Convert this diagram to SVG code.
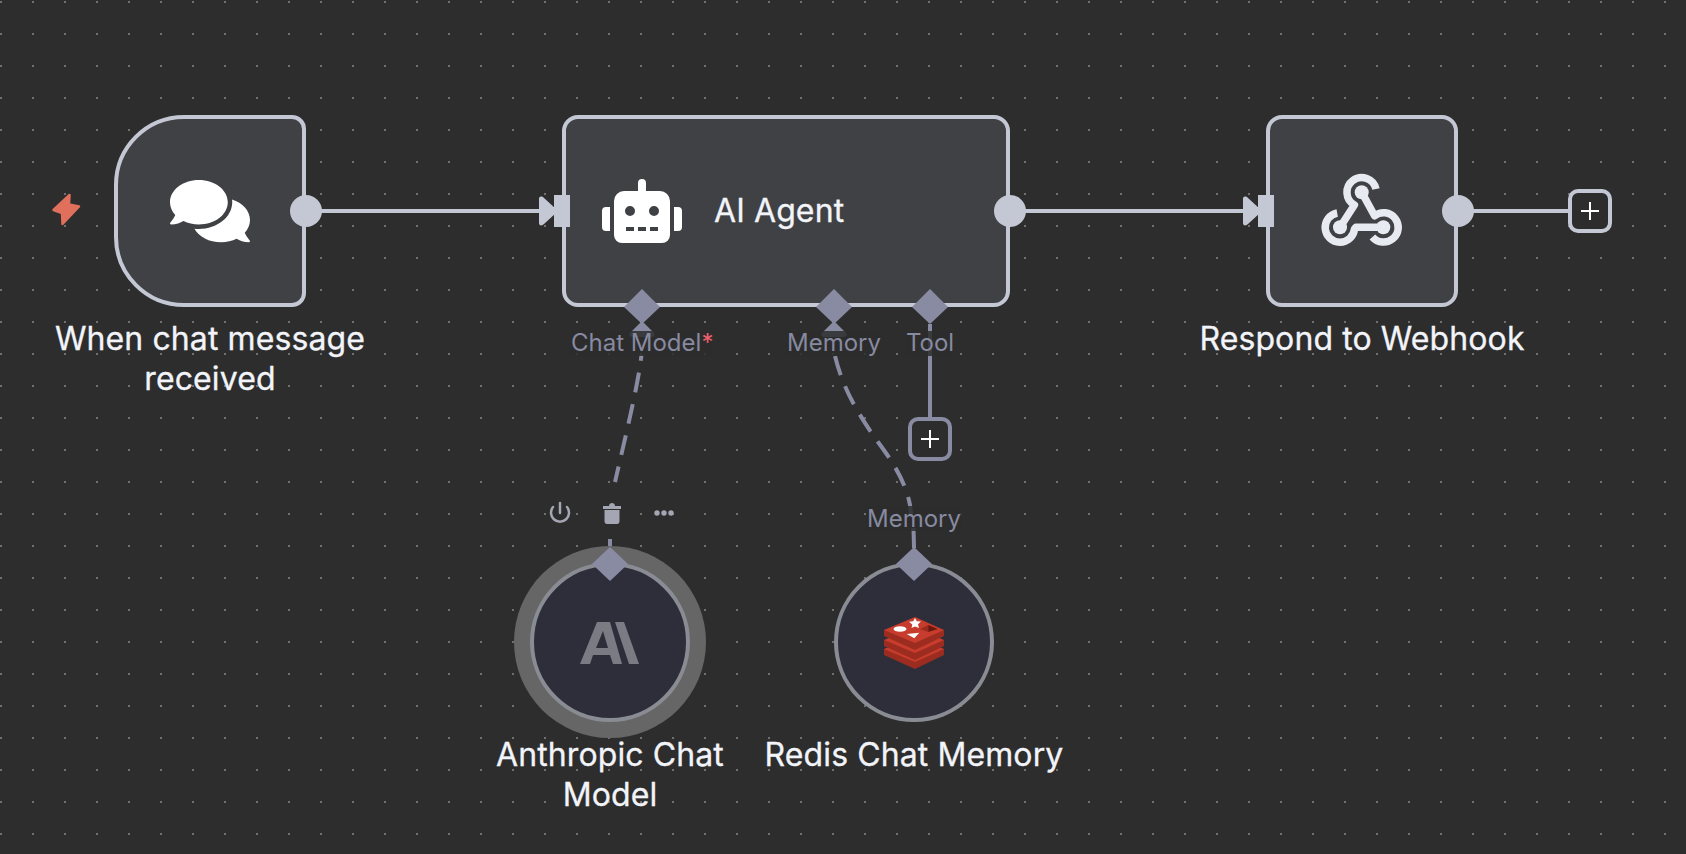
<svg xmlns="http://www.w3.org/2000/svg" width="1686" height="854" viewBox="0 0 1686 854">
<style>
.title{font-family:Inter,"Noto Sans",sans-serif;font-size:32px;fill:#f2f4f9;stroke:#f2f4f9;stroke-width:.3;text-anchor:middle;letter-spacing:.1px}
.lab{font-family:Inter,"Noto Sans",sans-serif;font-size:24px;fill:#878aa0;text-anchor:middle}
.node{fill:#404144;stroke:#c4c8d4;stroke-width:4}
.sub{fill:#2d2e3a;stroke:#8a8c94;stroke-width:4}
.main{stroke:#c4c8d4;stroke-width:4;fill:none}
.aux{stroke:#898ba2;stroke-width:4;fill:none}
.dash{stroke-dasharray:20 12}
.h{fill:#c4c8d4}
.d{fill:#898ba2}
.ph{fill:#2d2d2d;stroke-width:4}
.lbg{fill:#2d2d2d;opacity:.85}
.rf{fill:#c73c2c}
.rs{fill:#9c2c20}
</style>
<defs>
<pattern id="dots" width="32" height="32" patternUnits="userSpaceOnUse"><rect x="0" y="1" width="2" height="2" fill="#707070"/></pattern>
<g id="rlayer"><path class="rs" d="M884 630V636L915 650L944 636V630Z"/><path class="rf" d="M884 630L915 617L944 630L915 643Z"/></g>
</defs>
<rect width="1686" height="854" fill="#2d2d2d"/>
<rect width="1686" height="854" fill="url(#dots)"/>

<g id="connectors">
<path class="main" d="M306 211H540"/>
<path class="main" d="M1010 211H1244"/>
<path class="main" d="M1458 211H1568"/>
<path class="aux" d="M930 324V417"/>
<path class="aux dash" stroke-dashoffset="14" d="M641.500 355C638 385 627 430 615 482"/>
<path class="aux" d="M610 539V552"/>
<path class="aux dash" d="M835 356C842 385 855 410 878 442C892 461 905 480 910 505L913 530"/>
<path class="aux" d="M913.500 528L914 548"/>
<path class="h" d="M539 199C539 196 542 196 544 198L556 209V213L544 224C542 226 539 226 539 223Z"/>
<path class="h" d="M1243 199C1243 196 1246 196 1248 198L1260 209V213L1248 224C1246 226 1243 226 1243 223Z"/>
</g>

<g id="trigger-bolt"><path d="M69.500 195L53.500 210L62 213L62.500 224L79 206.500L69 204.500Z" fill="#e0705c" stroke="#e0705c" stroke-width="2.500" stroke-linejoin="round"/></g>

<g id="node-chat-trigger">
<path class="node" d="M184 117H292A12 12 0 0 1 304 129V293A12 12 0 0 1 292 305H184A68 68 0 0 1 116 237V185A68 68 0 0 1 184 117Z"/>
<circle class="h" cx="306" cy="211" r="16"/>
<path transform="translate(170 175.6) scale(.1389)" fill="#fff" d="M416 192c0-88.400-93.100-160-208-160S0 103.600 0 192c0 34.300 14.100 65.900 38 92-13.400 30.200-35.500 54.200-35.800 54.500-2.200 2.300-2.800 5.700-1.500 8.700S4.800 352 8 352c36.600 0 66.900-12.300 88.700-25 32.200 15.700 70.300 25 111.300 25 114.900 0 208-71.600 208-160zm122 220c23.900-26 38-57.700 38-92 0-66.900-53.500-124.200-129.300-148.100.9 6.600 1.300 13.300 1.300 20.100 0 105.900-107.700 192-240 192-10.800 0-21.300-.8-31.700-1.900C207.800 439.600 281.800 480 368 480c41 0 79.100-9.200 111.300-25 21.800 12.700 52.100 25 88.700 25 3.200 0 6.100-1.900 7.300-4.800 1.300-2.900.7-6.300-1.500-8.700-.3-.3-22.400-24.200-35.800-54.500z"/>
<text class="title" x="210" y="350">When chat message</text>
<text class="title" x="210" y="390">received</text>
</g>

<g id="node-ai-agent">
<rect class="node" x="564" y="117" width="444" height="188" rx="14"/>
<rect class="h" x="554" y="195" width="16" height="32"/>
<circle class="h" cx="1010" cy="211" r="16"/>
<path transform="translate(602 179) scale(.125)" fill="#fff" d="M32,224H64V416H32A31.96166,31.96166,0,0,1,0,384V256A31.96166,31.96166,0,0,1,32,224Zm512-48V448a64.06328,64.06328,0,0,1-64,64H160a64.06328,64.06328,0,0,1-64-64V176a79.974,79.974,0,0,1,80-80H288V32a32,32,0,0,1,64,0V96H464A79.974,79.974,0,0,1,544,176ZM264,256a40,40,0,1,0-40,40A39.997,39.997,0,0,0,264,256Zm-8,128H192v32h64Zm96,0H288v32h64ZM456,256a40,40,0,1,0-40,40A39.997,39.997,0,0,0,456,256Zm-8,128H384v32h64ZM640,256V384a31.96166,31.96166,0,0,1-32,32H576V224h32A31.96166,31.96166,0,0,1,640,256Z"/>
<text class="title" x="714" y="222" style="text-anchor:start">AI Agent</text>
<g class="d">
<path d="M642 289L660 307L642 324L624 307Z"/>
<path d="M834 289L852 307L834 324L816 307Z"/>
<path d="M930 289L948 307L930 324L912 307Z"/>
<path d="M642 321L654 333Q656 337 651 337H633Q628 337 630 333Z"/>
<path d="M834 321L846 333Q848 337 843 337H825Q820 337 822 333Z"/>
</g>
<rect class="lbg" x="571" y="331" width="142" height="25"/>
<rect class="lbg" x="787" y="331" width="94" height="25"/>
<rect class="lbg" x="906" y="331" width="48" height="25"/>
<text class="lab" x="571" y="351" style="text-anchor:start">Chat Model<tspan fill="#f0616f">*</tspan></text>
<text class="lab" x="834" y="351">Memory</text>
<text class="lab" x="930" y="351">Tool</text>
</g>

<g id="node-tool-plus">
<rect x="910" y="419" width="40" height="40" rx="8" class="ph" stroke="#898ba2"/>
<path d="M921 439H939M930 430V448" stroke="#fff" stroke-width="2"/>
</g>

<g id="node-respond-webhook">
<rect class="node" x="1268" y="117" width="188" height="188" rx="14"/>
<rect class="h" x="1258" y="195" width="16" height="32"/>
<circle class="h" cx="1458" cy="211" r="16"/>
<g fill="none" stroke="#e8eaf2" stroke-width="7.500" stroke-linejoin="round">
<path d="M1376 189A14.700 14.700 0 1 0 1354.400 205L1340 227.300"/>
<path d="M1337.200 213A14.700 14.700 0 1 0 1354.500 229L1356 227.300H1383.300"/>
<path d="M1372.400 237A14.700 14.700 0 1 0 1374.600 215.700L1361.700 192.300"/>
</g>
<g fill="#e8eaf2"><circle cx="1361.700" cy="192.300" r="7"/><circle cx="1340" cy="227.300" r="7"/><circle cx="1383.300" cy="227.300" r="7"/></g>
<text class="title" x="1362" y="350">Respond to Webhook</text>
</g>

<g id="node-end-plus">
<rect x="1570" y="191" width="40" height="40" rx="8" class="ph" stroke="#c4c8d4"/>
<path d="M1581 211H1599M1590 202V220" stroke="#fff" stroke-width="2"/>
</g>

<g id="node-anthropic">
<circle cx="610" cy="642" r="96" fill="#666"/>
<circle class="sub" cx="610" cy="642" r="78"/>
<path class="d" d="M610 547L628 564L610 581L592 564Z"/>
<path fill="#7b7b83" d="M597 622H610L622 664H613L610 655H593L590 664H580ZM603 631L596 648H608ZM615 622H624L639 664H629Z" fill-rule="evenodd"/>
<g id="toolbar">
<path d="M560 503V513M553 507A9 9 0 1 0 567 507" fill="none" stroke="#a4a6b4" stroke-width="2.500" stroke-linecap="round"/>
<path d="M603 506H621V509H603ZM609 506C609 502 615 502 615 506ZM604.500 510H619.500V521Q619.500 524 617 524H607Q604.500 524 604.500 521Z" fill="#a4a6b4"/>
<g fill="#a4a6b4"><circle cx="657" cy="513" r="2.700"/><circle cx="664" cy="513" r="2.700"/><circle cx="671" cy="513" r="2.700"/></g>
</g>
<text class="title" x="610" y="766">Anthropic Chat</text>
<text class="title" x="610" y="806">Model</text>
</g>

<g id="node-redis">
<circle class="sub" cx="914" cy="642" r="78"/>
<path class="d" d="M914 547L932 564L914 581L896 564Z"/>
<rect class="lbg" x="866" y="506" width="96" height="25"/>
<text class="lab" x="914" y="527">Memory</text>
<use href="#rlayer" y="19"/>
<use href="#rlayer" y="10"/>
<use href="#rlayer"/>
<ellipse cx="900" cy="629" rx="6.500" ry="2.800" fill="#fff"/>
<path d="M915 618L916.800 621.300L921 621.500L918 624.300L919 628L915 626.500L911.500 628L912.300 624.500L909 621.800L913.200 621.300Z" fill="#fff"/>
<path d="M906.700 634L919.300 632.700L914.300 638.300Z" fill="#fff"/>
<path d="M920 629L928.300 625V632Z" fill="#9c2b1d"/>
<path d="M928.300 625L937.700 629L928.300 632Z" fill="#6a170e"/>
<text class="title" x="914" y="766">Redis Chat Memory</text>
</g>
</svg>
